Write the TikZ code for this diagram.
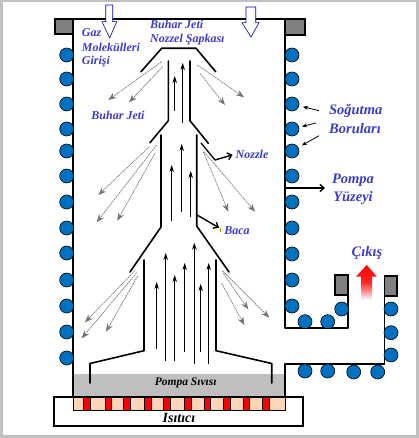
\documentclass[tikz,border=0pt]{standalone}
\usepackage{fontspec}
\setmainfont{Liberation Serif}
\definecolor{tubeblue}{RGB}{0,112,192}
\definecolor{labelblue}{RGB}{58,58,208}
\definecolor{framegray}{RGB}{192,192,192}
\definecolor{capgray}{RGB}{128,128,128}
\definecolor{liquidgray}{RGB}{191,191,191}
\definecolor{peach}{RGB}{251,213,181}
\tikzset{
  wall/.style={line width=1.6pt,line cap=round,line join=round},
  tube/.style={circle,draw=black,fill=tubeblue,line width=0.6pt,minimum size=14pt,inner sep=0pt},
  flange/.style={draw=black,fill=capgray,line width=1.5pt},
  jet/.style={-{Stealth[length=7pt,width=4.5pt]},line width=0.7pt},
  spray/.style={-{Stealth[length=8pt,width=6pt]},draw=black!55,line width=0.6pt,dash pattern=on 2pt off 0.7pt},
  pointer/.style={-{Stealth[length=5pt,width=4pt]},line width=0.8pt},
  heavyptr/.style={-{Straight Barb[length=4pt,width=7pt]},line width=1.4pt},
  inflow/.style={draw=blue!75!black,fill=white,line width=0.6pt},
  lab/.style={text=labelblue,font=\bfseries\itshape\fontsize{12}{14}\selectfont,inner sep=0pt},
  biglab/.style={text=labelblue,font=\bfseries\itshape\fontsize{14.5}{17}\selectfont,inner sep=0pt}
}
\usetikzlibrary{arrows.meta}
\begin{document}
\begin{tikzpicture}[x=1pt,y=-1pt]
\useasboundingbox (0,0) rectangle (419,438);
% page edge
\fill[framegray] (0,0) rectangle (419,2);
\fill[framegray] (0,435) rectangle (419,438);
\fill[framegray] (416,0) rectangle (419,438);
\fill[framegray] (0,0) rectangle (3,438);
% pump liquid and heater
\fill[liquidgray] (73,374) rectangle (285,397);
\draw[line width=1.2pt] (54,397) rectangle (303,426);
\draw[fill=peach,line width=0.8pt] (73.3,397) rectangle (285.7,410);
\foreach \xa/\xb in {83.3/90,105/111.7,123.7/130.3,144.7/151.7,163.7/170.3,184.7/191.3,204.7/210.3,223.7/230.3,243.3/249.3,262.7/269.3}
  \draw[fill=red,line width=0.5pt] (\xa,397) rectangle (\xb,410);
% body and exit duct
\draw[wall] (73,397) -- (73,19) -- (285,19) -- (285,328) -- (348,328) -- (348,295);
\draw[wall] (285,397) -- (285,364) -- (384.5,364) -- (384.5,296);
\draw[flange] (55,19) rectangle (73,34);
\draw[flange] (285,19) rectangle (305,35);
\draw[flange] (335,275) rectangle (348,295);
\draw[flange] (384.5,276) rectangle (397,296);
% cooling tubes
\foreach \y [count=\i] in {55,79,104,129,151,176,202,228,253,280,306,332,358}
  \node[tube] (tubeL\i) at (66.7,\y) {};
\foreach \y [count=\i] in {55,79,104,129,151,176,202,228,254,280,306}
  \node[tube] (tubeR\i) at (292,\y) {};
\foreach \x/\y [count=\i] in {305/321.7,327.7/321.7,341.7/309,391/309,391/332.7,391/355,305/371,327.7/371,353.7/372,377.7/372}
  \node[tube] (tubeD\i) at (\x,\y) {};
% nozzle stages
\draw[wall] (141,71.7) -- (161.7,48.3) -- (196,48.3) -- (215.7,71.7);
\draw[wall] (168.3,61) -- (168.3,120.7) -- (150,142.7);
\draw[wall] (190,61) -- (190,120.7) -- (208.3,143.3);
\draw[wall] (161,135) -- (161,227) -- (130,272);
\draw[wall] (196.7,135) -- (196.7,226) -- (229,272);
\draw[wall] (144,260) -- (144,350.7) -- (90,363.5) -- (90,383);
\draw[wall] (216,260) -- (216,350.7) -- (271.7,363.5) -- (271.7,383);
% vapour rising
\foreach \x/\ya/\yb in {174.7/110.7/76,182.7/122.7/63,171.7/220.7/165,181.7/211.7/144,190.7/216.7/171,156.7/349.3/282,165.7/360.7/253,174.7/361/275,184.7/351.7/263,194.3/364/242.7,200.7/351.7/284,208.7/364/263}
  \draw[jet] (\x,\ya) -- (\x,\yb);
% spray out of the nozzles
\foreach \xa/\ya/\xb/\yb in {161.7/61.7/108.3/100,162.7/66.7/129/102.3,197.3/65/244/97.3,200/73.3/225/105,
  149.3/146.7/98.3/195,156.7/145/96.7/222.3,155/153.3/117.3/220.7,203.3/151.7/228.3/211.7,204/151.7/255/211.7,
  135/270.7/85/322.3,136.7/272.7/81.7/338.3,137.7/276/106/331.7,222.3/270.7/269.3/317.7,223.3/273.3/248.3/309.3,221.7/283.3/244.3/325}
  \draw[spray] (\xa,\ya) -- (\xb,\yb);
% gas inlets
\draw[inflow] (105.7,5) -- (112.7,5) -- (112.7,21.7) -- (116.7,21.7) -- (109.7,38) -- (102,21.7) -- (105.7,21.7) -- cycle;
\draw[inflow] (246,7) -- (255.7,7) -- (255.7,22.7) -- (259,22.7) -- (251,37) -- (242,22.7) -- (246,22.7) -- cycle;
% exit arrow
\shade[top color=red,bottom color=white,middle color=red!85!white] (361,276.7) -- (356,276.7) -- (366.7,265) -- (377,276.7) -- (372,276.7) -- (372,300) -- (361,300) -- cycle;
% labels
\node[lab,anchor=west] (gaz) at (81.7,33) {Gaz};
\node[lab,anchor=west] (molekul) at (81.7,47.7) {Molekülleri};
\node[lab,anchor=west] (giris) at (81.7,62) {Girişi};
\node[lab,anchor=west] (bjet) at (150,24) {Buhar Jeti};
\node[lab,anchor=west] (sapka) at (150,40) {Nozzel Şapkası};
\node[lab] (jetlab) at (118,115.7) {Buhar Jeti};
\node[lab] (nozzle) at (252,154) {Nozzle};
\node[lab] (baca) at (237,230.7) {Baca};
\node[biglab] (sogutma) at (355.7,111) {Soğutma};
\node[biglab] (boru) at (355,129) {Boruları};
\node[biglab] (pompa) at (353,180.7) {Pompa};
\node[biglab] (yuzey) at (353,198) {Yüzeyi};
\node[biglab] (cikis) at (367,252.7) {Çıkış};
\node[inner sep=0pt,font=\bfseries\itshape\fontsize{11.5}{14}\selectfont] (sivi) at (185.7,383) {Pompa Sıvısı};
\node[inner sep=0pt,font=\bfseries\itshape\fontsize{14}{17}\selectfont] (isitici) at (179,418) {Isıtıcı};
% pointers
\draw[pointer,shorten >=4pt] (319,110.7) -- (tubeR3);
\draw[pointer,shorten >=3pt] (316,123) -- (tubeR4);
\draw[pointer,shorten >=4pt] (319,135.7) -- (tubeR5);
\draw[heavyptr] (285,188) -- (325,188);
\draw[wall,line width=1.3pt] (201,143) -- (215,160);
\draw[heavyptr,shorten >=3pt] (215,160) -- (nozzle.west);
\draw[heavyptr] (197,215) -- (219,227.7);
\draw[orange,line width=0.5pt] (220.3,228) -- (220.3,232);
\end{tikzpicture}
\end{document}
